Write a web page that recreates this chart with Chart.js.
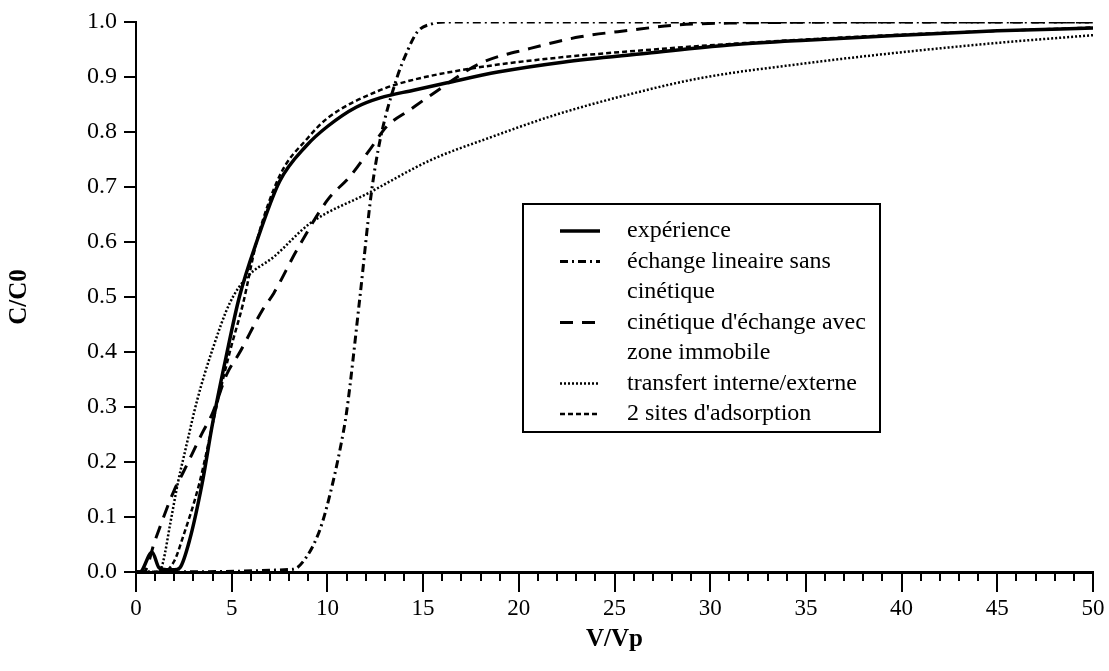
<!DOCTYPE html>
<html>
<head>
<meta charset="utf-8">
<script src="https://cdn.jsdelivr.net/npm/chart.js@4.4.1/dist/chart.umd.min.js"></script>
<style>
  html, body { margin: 0; padding: 0; background: #fff; }
  #wrap { width: 1109px; height: 671px; }
</style>
</head>
<body>
<div id="wrap"><canvas id="chart"></canvas></div>
<script>
// series names (legend lines; a "\n" breaks the text on two rows)
const seriesNames = [
    "expérience",
    "échange lineaire sans\ncinétique",
    "cinétique d'échange avec\nzone immobile",
    "transfert interne/externe",
    "2 sites d'adsorption",
];

// expérience
const expX = [0, 0.2, 0.84, 1.2, 1.6, 2.0, 2.3, 2.8, 3.45, 4.0, 4.7, 5.4, 6.3, 7.5, 8.9, 10, 11.5, 12.75, 14.5, 16.2, 18.9, 22.3, 26.7, 31, 35, 40, 45, 50];
const expY = [0, 0, 0.036, 0.008, 0.004, 0.004, 0.008, 0.058, 0.16, 0.27, 0.39, 0.5, 0.6, 0.71, 0.775, 0.81, 0.845, 0.862, 0.876, 0.889, 0.909, 0.927, 0.943, 0.958, 0.967, 0.976, 0.984, 0.989];

// échange linéaire sans cinétique
const echX = [0, 8.2, 8.9, 9.6, 10.1, 10.7, 11.0, 11.7, 12.3, 12.75, 13.6, 14.2, 14.7, 15.5, 16.2, 50];
const echY = [0, 0.005, 0.027, 0.076, 0.136, 0.23, 0.29, 0.5, 0.69, 0.785, 0.895, 0.949, 0.982, 0.997, 1.0, 1.0];

// cinétique d'échange avec zone immobile
const cinX = [0, 0.4, 1.0, 2.0, 2.45, 3.45, 4.0, 4.75, 5.4, 6.6, 7.2, 8.4, 10.0, 11.2, 12.2, 13.1, 14.3, 15.4, 18, 20.6, 23.2, 25.8, 28.4, 31, 40, 50];
const cinY = [0, 0, 0.058, 0.149, 0.18, 0.252, 0.289, 0.36, 0.398, 0.476, 0.507, 0.585, 0.676, 0.72, 0.767, 0.81, 0.84, 0.867, 0.925, 0.952, 0.973, 0.985, 0.995, 0.998, 1.0, 1.0];

// transfert interne/externe
const traX = [0, 1.2, 1.4, 1.8, 2.2, 2.6, 3.2, 4.0, 4.9, 5.8, 7.2, 9.1, 12.2, 15.4, 18.5, 21.9, 25.5, 29.5, 35, 40, 45, 50];
const traY = [0, 0, 0.016, 0.09, 0.164, 0.225, 0.313, 0.405, 0.489, 0.536, 0.573, 0.634, 0.69, 0.749, 0.79, 0.831, 0.866, 0.898, 0.925, 0.945, 0.962, 0.976];

// 2 sites d'adsorption
const sitX = [0, 1.4, 2.0, 2.4, 3.3, 4.2, 4.9, 5.6, 6.3, 7.5, 9.0, 10, 12.75, 14.5, 18, 22, 27, 31, 40, 50];
const sitY = [0, 0, 0.02, 0.058, 0.16, 0.3, 0.4, 0.489, 0.6, 0.72, 0.79, 0.825, 0.876, 0.895, 0.918, 0.935, 0.95, 0.96, 0.977, 0.99];

// axis ticks
const xMajorStep = 5;
const xMinorStep = 1;
const yStep = 0.1;

const toPoints = (xs, ys) => xs.map((x, i) => ({ x: x, y: ys[i] }));

const SERIF = "'Liberation Serif', 'Times New Roman', serif";

// minor ticks under the x axis
const minorTicksPlugin = {
    id: "minorTicks",
    afterDraw: (chart) => {
        const { ctx } = chart;
        const xs = chart.scales.x;
        const yBase = chart.chartArea.bottom;
        ctx.save();
        ctx.strokeStyle = "#000";
        ctx.lineWidth = 2;
        for (let v = xs.min; v <= xs.max; v += xMinorStep) {
            if (v % xMajorStep === 0) continue;
            const px = Math.round(xs.getPixelForValue(v));
            ctx.beginPath();
            ctx.moveTo(px, yBase);
            ctx.lineTo(px, yBase + 9);
            ctx.stroke();
        }
        ctx.restore();
    },
};

// boxed legend, drawn inside the plot
const boxLegendPlugin = {
    id: "boxLegend",
    afterDraw: (chart) => {
        const { ctx } = chart;
        const box = { left: 523, top: 204, right: 880, bottom: 432 };
        const rowH = 30.5;
        const sampleL = 560, sampleR = 600, textX = 627;

        ctx.save();
        ctx.strokeStyle = "#000";
        ctx.lineWidth = 2;
        ctx.strokeRect(box.left, box.top, box.right - box.left, box.bottom - box.top);

        ctx.font = "24px " + SERIF;
        ctx.fillStyle = "#000";
        ctx.textAlign = "left";
        ctx.textBaseline = "middle";

        let y = box.top + 27;
        chart.data.datasets.forEach((ds) => {
            const rows = ds.label.split("\n");
            ctx.beginPath();
            ctx.setLineDash(ds.borderDash || []);
            ctx.lineWidth = ds.borderWidth;
            ctx.moveTo(sampleL, y);
            ctx.lineTo(sampleR, y);
            ctx.stroke();
            ctx.setLineDash([]);
            rows.forEach((r, i) => ctx.fillText(r, textX, y + i * rowH));
            y += rows.length * rowH;
        });
        ctx.restore();
    },
};

const lineStyle = {
    fill: false,
    pointRadius: 0,
    borderColor: "#000",
    cubicInterpolationMode: "monotone",
};

new Chart(document.getElementById("chart"), {
    type: "line",
    plugins: [minorTicksPlugin, boxLegendPlugin],
    data: {
        datasets: [
            { ...lineStyle, label: seriesNames[0], data: toPoints(expX, expY), borderWidth: 3.5 },
            { ...lineStyle, label: seriesNames[1], data: toPoints(echX, echY), borderWidth: 3, borderDash: [8, 4, 2, 4] },
            { ...lineStyle, label: seriesNames[2], data: toPoints(cinX, cinY), borderWidth: 3, borderDash: [13, 9] },
            { ...lineStyle, label: seriesNames[3], data: toPoints(traX, traY), borderWidth: 2.5, borderDash: [2, 2] },
            { ...lineStyle, label: seriesNames[4], data: toPoints(sitX, sitY), borderWidth: 2.5, borderDash: [5, 3] },
        ],
    },
    options: {
        responsive: true,
        maintainAspectRatio: false,
        animation: false,
        layout: { padding: { top: 22, right: 16, left: 0, bottom: 0 } },
        plugins: {
            legend: { display: false },
            tooltip: { enabled: false },
        },
        scales: {
            x: {
                type: "linear",
                min: 0,
                max: 50,
                afterFit: (s) => { s.height = 99; },
                border: { display: true, color: "#000", width: 3 },
                grid: { drawOnChartArea: false, color: "#000", lineWidth: 2, tickLength: 20 },
                ticks: {
                    stepSize: xMajorStep,
                    color: "#000",
                    padding: 3,
                    maxRotation: 0,
                    font: { family: SERIF, size: 23 },
                },
                title: {
                    display: true,
                    text: "V/Vp",
                    color: "#000",
                    padding: { top: 0, bottom: 16 },
                    font: { family: SERIF, size: 25, weight: "bold" },
                },
            },
            y: {
                min: 0,
                max: 1,
                afterFit: (s) => { s.width = 136; },
                border: { display: true, color: "#000", width: 2 },
                grid: { drawOnChartArea: false, color: "#000", lineWidth: 2, tickLength: 12 },
                ticks: {
                    stepSize: yStep,
                    color: "#000",
                    padding: 7,
                    font: { family: SERIF, size: 24 },
                    callback: (v) => v.toFixed(1),
                },
                title: {
                    display: true,
                    text: "C/C0",
                    color: "#000",
                    padding: { top: 5, bottom: 0 },
                    font: { family: SERIF, size: 25, weight: "bold" },
                },
            },
        },
    },
});
</script>
</body>
</html>
